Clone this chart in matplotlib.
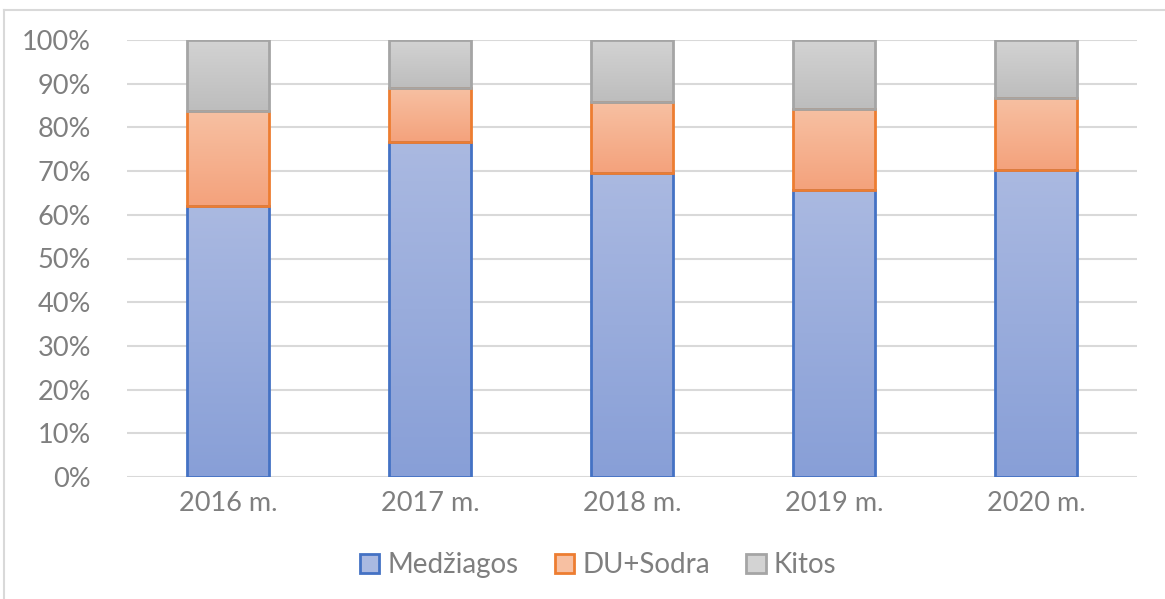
import matplotlib
matplotlib.use('Agg')
import matplotlib.pyplot as plt
import numpy as np
from matplotlib.colors import LinearSegmentedColormap
from matplotlib.patches import Rectangle
from matplotlib.lines import Line2D

years = ["2016 m.", "2017 m.", "2018 m.", "2019 m.", "2020 m."]
medziagos = [62.0, 76.7, 69.6, 65.7, 70.2]
du_sodra = [21.7, 12.3, 16.2, 18.5, 16.5]
kitos = [16.3, 11.0, 14.2, 15.8, 13.3]

series = [
    ("Medžiagos", medziagos, "#4472c4", "#aab9e1", "#889fd7"),
    ("DU+Sodra", du_sodra, "#ed7d31", "#f7c0a2", "#f4a27c"),
    ("Kitos", kitos, "#a5a5a5", "#d3d3d3", "#bdbdbd"),
]

plt.rcParams['font.family'] = ['Lato', 'DejaVu Sans']
text_col = "#7f7f7f"

fig = plt.figure(figsize=(11.65, 5.99), dpi=100)
ax = fig.add_axes([127 / 1165, 1 - 477 / 599, (1137 - 127) / 1165, 437 / 599])

x = np.arange(len(years))
width = 0.405
bottom = np.zeros(len(years))
handles = []
for name, vals, edge, top_c, bot_c in series:
    cmap = LinearSegmentedColormap.from_list(name, [bot_c, top_c])
    grad = np.linspace(0, 1, 100).reshape(-1, 1)
    for i, v in enumerate(vals):
        x0, y0 = x[i] - width / 2, bottom[i]
        im = ax.imshow(grad, cmap=cmap, origin='lower', aspect='auto',
                       extent=[x0, x0 + width, y0, y0 + v], zorder=2)
        rect = Rectangle((x0, y0), width, v, facecolor='none', edgecolor=edge,
                         linewidth=2, zorder=3)
        ax.add_patch(rect)
        im.set_clip_path(rect)
    bottom += np.array(vals)
    handles.append(Rectangle((0, 0), 1, 1, facecolor=(top_c), edgecolor=edge, linewidth=2))

ax.set_xlim(-0.5, len(years) - 0.5)
ax.set_ylim(0, 100)
ax.set_yticks(np.arange(0, 101, 10))
ax.set_yticklabels([f"{t}%" for t in range(0, 101, 10)])
ax.set_xticks(x)
ax.set_xticklabels(years)
ax.yaxis.grid(True, color="#d9d9d9", linewidth=1.5, zorder=0)
ax.set_axisbelow(True)
for s in ax.spines.values():
    s.set_visible(False)
ax.tick_params(length=0, labelsize=19.5, colors=text_col)
ax.tick_params(axis='y', pad=26)
ax.tick_params(axis='x', pad=10)

leg = fig.legend(handles, [s[0] for s in series], loc='center', ncol=3,
                 bbox_to_anchor=(598 / 1165, 1 - 565 / 599), frameon=False,
                 fontsize=20, handlelength=0.7, handleheight=0.7,
                 handletextpad=0.3, columnspacing=1.3)
for t in leg.get_texts():
    t.set_color(text_col)

fig.add_artist(Line2D([4 / 1165, 4 / 1165], [0, 1 - 10 / 599], transform=fig.transFigure,
                      color="#d9d9d9", linewidth=1.5))
fig.add_artist(Line2D([4 / 1165, 1], [1 - 10 / 599, 1 - 10 / 599], transform=fig.transFigure,
                      color="#d9d9d9", linewidth=1.5))

fig.savefig("out.png", dpi=100)
